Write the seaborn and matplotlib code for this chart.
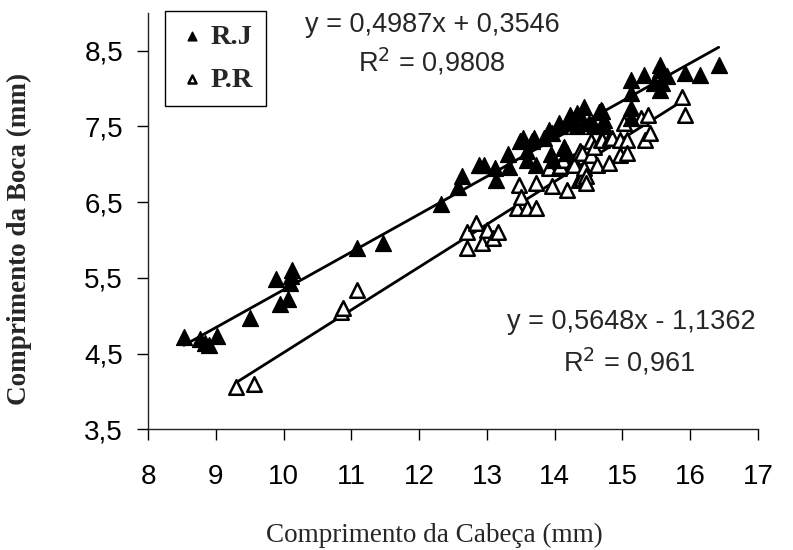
import matplotlib
matplotlib.use("Agg")
import matplotlib.pyplot as plt
import numpy as np
import pandas as pd
import seaborn as sns
from matplotlib.ticker import FuncFormatter, MultipleLocator

# Head length (x) and mouth length (y), in mm, for the two populations
rj_x = [8.53, 8.77, 8.84, 8.90, 9.02, 9.51, 9.89, 9.95, 10.06, 10.10, 10.11, 10.12,
        11.09, 11.46, 12.32, 12.58, 12.63, 12.88, 12.95, 13.12, 13.14, 13.31, 13.32,
        13.49, 13.54, 13.59, 13.59, 13.67, 13.69, 13.72, 13.84, 13.91, 13.94, 13.96,
        13.98, 14.06, 14.08, 14.14, 14.18, 14.21, 14.23, 14.24, 14.33, 14.33, 14.43,
        14.43, 14.50, 14.58, 14.65, 14.68, 14.70, 14.73, 14.73, 15.12, 15.12, 15.13,
        15.13, 15.32, 15.47, 15.55, 15.55, 15.56, 15.59, 15.66, 15.93, 16.14, 16.42]
rj_y = [4.72, 4.69, 4.64, 4.61, 4.73, 4.97, 5.49, 5.16, 5.22, 5.43, 5.52, 5.60,
        5.89, 5.96, 6.48, 6.70, 6.85, 6.99, 6.99, 6.95, 6.79, 7.14, 6.96,
        7.31, 7.34, 7.17, 7.06, 7.31, 7.34, 6.99, 7.34, 7.45, 7.13, 7.41,
        7.06, 7.54, 7.50, 7.23, 7.15, 7.56, 7.65, 7.61, 7.67, 7.50, 7.76,
        7.54, 7.54, 7.50, 7.69, 7.72, 7.70, 7.59, 7.50, 8.11, 7.61, 7.94,
        7.74, 8.18, 8.07, 8.31, 8.24, 7.98, 8.07, 8.16, 8.20, 8.18, 8.31]

pr_x = [9.30, 9.57, 10.85, 10.87, 11.09, 12.70, 12.71, 12.84, 12.93, 13.00, 13.09,
        13.17, 13.45, 13.47, 13.50, 13.59, 13.72, 13.72, 13.91, 13.96, 14.06, 14.08,
        14.12, 14.14, 14.18, 14.28, 14.28, 14.36, 14.38, 14.41, 14.41, 14.43, 14.46,
        14.46, 14.53, 14.53, 14.58, 14.63, 14.68, 14.70, 14.80, 14.82, 14.85, 14.97,
        14.97, 15.02, 15.07, 15.07, 15.27, 15.34, 15.38, 15.41, 15.88, 15.93]
pr_y = [4.06, 4.10, 5.05, 5.10, 5.34, 5.89, 6.11, 6.22, 5.96, 6.13, 6.02,
        6.11, 6.42, 6.73, 6.57, 6.42, 6.42, 6.75, 6.95, 6.71, 6.95, 6.97,
        7.06, 7.21, 6.66, 7.04, 6.99, 6.79, 7.17, 6.82, 7.15, 6.95, 6.84,
        6.75, 7.12, 7.30, 7.23, 6.99, 7.32, 7.32, 7.01, 7.34, 7.34, 7.12,
        7.32, 7.54, 7.32, 7.15, 7.61, 7.32, 7.65, 7.41, 7.89, 7.65]

# Fitted linear trends (slope, intercept, R²)
rj_fit = (0.4987, 0.3546, 0.9808)
pr_fit = (0.5648, -1.1362, 0.961)

series_names = ["R.J", "P.R"]

df = pd.concat([
    pd.DataFrame({"cabeca": rj_x, "boca": rj_y, "grupo": series_names[0]}),
    pd.DataFrame({"cabeca": pr_x, "boca": pr_y, "grupo": series_names[1]}),
], ignore_index=True)

sns.set_style("ticks")
plt.rcParams["font.family"] = ["Liberation Sans", "DejaVu Sans"]
serif = ["Liberation Serif", "DejaVu Serif"]

fig = plt.figure(figsize=(7.93, 5.5), dpi=100)
ax = fig.add_axes([148 / 793, 1 - 429.3 / 550, 610 / 793, 416.6 / 550])

# regression lines, drawn from the fitted equations over each group's range
for xs, (m, b, _) in ((rj_x, rj_fit), (pr_x, pr_fit)):
    xx = np.array([min(xs), max(xs)])
    ax.plot(xx, m * xx + b, color="black", lw=2, zorder=1)

sns.scatterplot(data=df[df.grupo == "R.J"], x="cabeca", y="boca", marker="^",
                s=130, color="black", edgecolor="black", linewidth=1,
                ax=ax, zorder=3, label="R.J")
sns.scatterplot(data=df[df.grupo == "P.R"], x="cabeca", y="boca", marker="^",
                s=110, facecolor="white", edgecolor="black", linewidth=1.8,
                ax=ax, zorder=2, label="P.R")

ax.set_xlim(8, 17)
ax.set_ylim(3.5, 9.0)
ax.xaxis.set_major_locator(MultipleLocator(1))
ax.set_yticks([3.5, 4.5, 5.5, 6.5, 7.5, 8.5])
ax.yaxis.set_major_formatter(FuncFormatter(lambda v, p: f"{v:.1f}".replace(".", ",")))
ax.xaxis.set_major_formatter(FuncFormatter(lambda v, p: f"{v:.0f}"))
ax.tick_params(axis="x", direction="out", length=8, width=1, pad=17,
               labelsize=20, colors="black")
ax.tick_params(axis="y", direction="out", length=8, width=1, pad=10,
               labelsize=20, colors="black")
for s in ("top", "right"):
    ax.spines[s].set_visible(False)
for s in ("left", "bottom"):
    ax.spines[s].set_color("#222222")
    ax.spines[s].set_linewidth(1)

ax.set_xlabel("Comprimento da Cabeça (mm)", fontsize=19.5, family=serif)
ax.xaxis.set_label_coords(0.47, -0.225)
ax.set_ylabel("Comprimento da Boca (mm)", fontsize=19.5, fontweight="bold", family=serif)
ax.yaxis.set_label_coords(-0.19, 0.457)


def fmt(v, nd):
    return f"{v:.{nd}f}".replace(".", ",")


m, b, r2 = rj_fit
ax.text(12.19, 8.84, f"y = {fmt(m, 4)}x + {fmt(b, 4)}", ha="center", va="center", fontsize=19.5)
ax.text(12.19, 8.35, f"R$^2$ = {fmt(r2, 4)}", ha="center", va="center", fontsize=19.5)
m, b, r2 = pr_fit
ax.text(15.13, 4.92, f"y = {fmt(m, 4)}x - {fmt(abs(b), 4)}", ha="center", va="center", fontsize=19.5)
ax.text(15.10, 4.39, f"R$^2$ = {fmt(r2, 3)}", ha="center", va="center", fontsize=19.5)

leg = ax.legend(loc="upper left", bbox_to_anchor=(0.028, 1.004), borderaxespad=0,
                frameon=True, fancybox=False, markerscale=0.55, handletextpad=0.15,
                handlelength=1.0, borderpad=0.45, labelspacing=0.6,
                prop={"family": serif, "weight": "bold", "size": 20.5})
leg.get_frame().set_edgecolor("black")
leg.get_frame().set_linewidth(1)
leg.get_frame().set_alpha(1)

fig.savefig("out.png", dpi=100)
